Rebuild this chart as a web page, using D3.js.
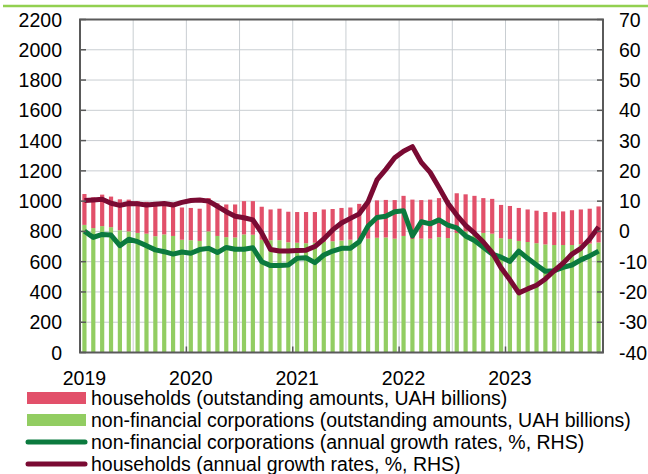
<!DOCTYPE html>
<html><head><meta charset="utf-8">
<script src="https://cdn.jsdelivr.net/npm/d3@7"></script>
<style>
html,body{margin:0;padding:0;background:#fff;}
svg{display:block;font-family:"Liberation Sans",Arial,sans-serif;}
</style></head>
<body><svg id="c" width="648" height="474"></svg>
<script>
// months Jan 2019 – Nov 2023
const years = [2019, 2020, 2021, 2022, 2023];
const months = [];
for (const y of years) for (let m = 1; m <= 12; m++) { if (y === 2023 && m > 11) break; months.push(y + "-" + String(m).padStart(2, "0")); }

// NFC outstanding amounts (UAH bn)
const nfcAmount = [
  843, 822, 835, 828, 808, 800, 790, 785, 768, 780, 770, 745,
  742, 737, 800, 770, 762, 760, 780, 778, 745, 742, 742, 728,
  725, 722, 725, 732, 735, 740, 745, 748, 752, 758, 760, 752,
  770, 750, 752, 752, 762, 756, 790, 800, 795, 790, 785, 755,
  750, 737, 730, 722, 714, 710, 710, 710, 715, 720, 727
];
// Total outstanding (NFC + households), UAH bn
const totalAmount = [
  1047, 1025, 1043, 1030, 1012, 1010, 1000, 995, 995, 995, 990, 958,
  955, 950, 1020, 985, 978, 978, 1000, 1000, 963, 945, 950, 930,
  928, 928, 928, 945, 948, 955, 958, 982, 993, 1005, 1008, 1007,
  1035, 1010, 1007, 1010, 1020, 1005, 1052, 1045, 1035, 1020, 1015, 975,
  968, 955, 945, 937, 928, 927, 932, 940, 945, 950, 965
];
const hhAmount = totalAmount.map((t, i) => t - nfcAmount[i]);

// annual growth rates, %
const nfcGrowth = [
  0.1, -2.0, -1.0, -1.2, -4.7, -2.6, -3.4, -4.7, -6.1, -6.7, -7.5, -6.8,
  -7.2, -6.0, -5.6, -7.0, -5.3, -5.9, -5.9, -5.4, -10.0, -11.3, -11.3, -11.1,
  -8.9, -8.7, -10.3, -7.8, -6.5, -5.6, -5.6, -3.4, 1.8, 4.6, 5.0, 6.5,
  6.8, -1.5, 3.2, 2.5, 3.8, 2.1, 1.2, -1.5, -3.0, -5.2, -7.5, -8.5,
  -9.9, -6.5, -8.9, -11.1, -13.2, -13.0, -11.9, -11.1, -9.4, -8.1, -6.5
];
const hhGrowth = [
  10.2, 10.4, 10.6, 9.3, 8.6, 9.2, 9.1, 8.7, 9.0, 9.2, 8.7, 9.6,
  10.2, 10.4, 10.0, 8.3, 6.5, 5.0, 4.5, 3.8, -0.5, -6.0, -6.5, -6.5,
  -6.3, -6.2, -5.0, -2.5, 0.5, 2.8, 4.3, 5.8, 9.8, 17.0, 20.5, 24.3,
  26.5, 28.0, 22.8, 19.5, 14.5, 9.3, 5.4, 2.0, -0.6, -3.5, -7.0, -12.0,
  -16.0, -20.3, -19.0, -17.8, -15.7, -13.0, -10.5, -7.5, -5.6, -2.5, 1.5
];

const leftTicks = d3.range(0, 2201, 200);
const rightTicks = d3.range(-40, 71, 10);
const legendLabels = [
  "households (outstanding amounts, UAH billions)",
  "non-financial corporations (outstanding amounts, UAH billions)",
  "non-financial corporations (annual growth rates, %, RHS)",
  "households (annual growth rates, %, RHS)"
];

const C = { hhBar: "#e2506a", nfcBar: "#92cd62", nfcLine: "#0b7a3e", hhLine: "#7a0a33", grid: "#c9ced2", axis: "#5a5a5a", top: "#92d050" };

const svg = d3.select("#c");
const L = 80, R = 603, T = 19.5, B = 352.5;
const x = d3.scaleBand().domain(months).range([L, R]).paddingInner(0).paddingOuter(0);
const yL = d3.scaleLinear().domain([0, 2200]).range([B, T]);
const yR = d3.scaleLinear().domain([-40, 70]).range([B, T]);
const cx = m => x(m) + x.bandwidth() / 2;

// top decorative line
svg.append("line").attr("x1", 3).attr("x2", 648).attr("y1", 6).attr("y2", 6).attr("stroke", C.top).attr("stroke-width", 2.5);

// grid
const g = svg.append("g");
g.selectAll("line.h").data(leftTicks.slice(1)).join("line")
  .attr("x1", L).attr("x2", R).attr("y1", d => yL(d)).attr("y2", d => yL(d))
  .attr("stroke", C.grid).attr("stroke-width", 1);
const vgrid = months.filter((m, i) => i % 6 === 0 && i > 0);
g.selectAll("line.v").data(vgrid).join("line")
  .attr("x1", d => x(d)).attr("x2", d => x(d)).attr("y1", T).attr("y2", B)
  .attr("stroke", C.grid).attr("stroke-width", 1);

// bars
const bw = 4.2;
svg.append("g").selectAll("rect").data(months).join("rect")
  .attr("x", d => cx(d) - bw / 2).attr("width", bw)
  .attr("y", (d, i) => yL(nfcAmount[i])).attr("height", (d, i) => B - yL(nfcAmount[i]))
  .attr("fill", C.nfcBar);
svg.append("g").selectAll("rect").data(months).join("rect")
  .attr("x", d => cx(d) - bw / 2).attr("width", bw)
  .attr("y", (d, i) => yL(nfcAmount[i] + hhAmount[i])).attr("height", (d, i) => yL(nfcAmount[i]) - yL(nfcAmount[i] + hhAmount[i]))
  .attr("fill", C.hhBar);

// lines
const line = arr => d3.line().x((d, i) => cx(months[i])).y(d => yR(d))(arr);
svg.append("path").attr("d", line(nfcGrowth)).attr("fill", "none").attr("stroke", C.nfcLine).attr("stroke-width", 5).attr("stroke-linejoin", "round");
svg.append("path").attr("d", line(hhGrowth)).attr("fill", "none").attr("stroke", C.hhLine).attr("stroke-width", 5).attr("stroke-linejoin", "round");

// frame and ticks
const fr = svg.append("g").attr("stroke", C.axis).attr("fill", "none");
fr.append("rect").attr("x", L).attr("y", T).attr("width", R - L).attr("height", B - T).attr("stroke-width", 2);
fr.selectAll("line.lt").data(leftTicks).join("line").attr("x1", L).attr("x2", L + 6).attr("y1", d => yL(d)).attr("y2", d => yL(d)).attr("stroke-width", 1.5);
fr.selectAll("line.rt").data(rightTicks).join("line").attr("x1", R - 6).attr("x2", R).attr("y1", d => yR(d)).attr("y2", d => yR(d)).attr("stroke-width", 1.5);
const yearStarts = months.filter(m => m.endsWith("-01"));
fr.selectAll("line.bt").data(yearStarts).join("line").attr("x1", d => x(d)).attr("x2", d => x(d)).attr("y1", B - 6).attr("y2", B).attr("stroke-width", 1.5);

// labels
const fs = 19.5;
svg.append("g").selectAll("text").data(leftTicks).join("text")
  .attr("x", 62).attr("y", d => yL(d)).attr("dy", "0.36em").attr("text-anchor", "end")
  .attr("font-size", fs).attr("fill", "#000").text(d => d);
svg.append("g").selectAll("text").data(rightTicks).join("text")
  .attr("x", 619).attr("y", d => yR(d)).attr("dy", "0.36em").attr("text-anchor", "start")
  .attr("font-size", fs).attr("fill", "#000").text(d => d);
svg.append("g").selectAll("text").data(yearStarts).join("text")
  .attr("x", d => cx(d)).attr("y", 378).attr("dy", "0.36em").attr("text-anchor", "middle")
  .attr("font-size", fs).attr("fill", "#000").text(d => d.slice(0, 4));

// legend
const lg = svg.append("g");
const rowY = [398, 420, 442, 464];
lg.append("rect").attr("x", 27).attr("y", rowY[0] - 6).attr("width", 59).attr("height", 12).attr("fill", C.hhBar);
lg.append("rect").attr("x", 27).attr("y", rowY[1] - 6).attr("width", 59).attr("height", 12).attr("fill", C.nfcBar);
lg.append("line").attr("x1", 28).attr("x2", 85).attr("y1", rowY[2]).attr("y2", rowY[2]).attr("stroke", C.nfcLine).attr("stroke-width", 5).attr("stroke-linecap", "round");
lg.append("line").attr("x1", 28).attr("x2", 85).attr("y1", rowY[3]).attr("y2", rowY[3]).attr("stroke", C.hhLine).attr("stroke-width", 5).attr("stroke-linecap", "round");
lg.selectAll("text").data(legendLabels).join("text")
  .attr("x", 91).attr("y", (d, i) => rowY[i]).attr("dy", "0.36em")
  .attr("font-size", fs).attr("fill", "#000").text(d => d);
</script></body></html>
